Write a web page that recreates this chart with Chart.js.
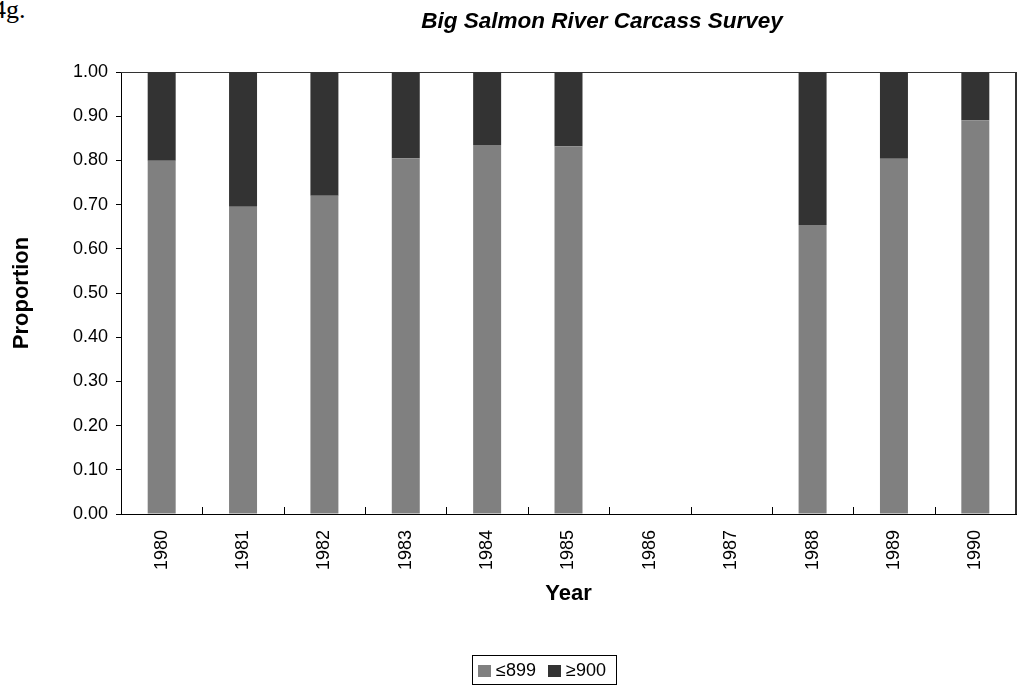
<!DOCTYPE html>
<html>
<head>
<meta charset="utf-8">
<script src="https://cdn.jsdelivr.net/npm/chart.js@4/dist/chart.umd.min.js"></script>
<style>
  html, body { margin: 0; padding: 0; background: #fff; }
  #wrap { position: relative; width: 1018px; height: 688px; overflow: hidden; }
  #fig { position: absolute; left: -7px; top: -5px; font-family: "Liberation Serif", "Times New Roman", serif; font-size: 26px; color: #000; }
  canvas { position: absolute; left: 0; top: 0; }
</style>
</head>
<body>
<div id="wrap">
  <div id="fig">4g.</div>
  <canvas id="chart" width="1018" height="688"></canvas>
</div>
<script>
// Carcass survey proportions by size class
const years = ['1980', '1981', '1982', '1983', '1984', '1985', '1986', '1987', '1988', '1989', '1990'];
const small = [0.799, 0.695, 0.720, 0.805, 0.835, 0.832, null, null, 0.654, 0.804, 0.891];
const large = [0.201, 0.305, 0.280, 0.195, 0.165, 0.168, null, null, 0.346, 0.196, 0.109];
const seriesNames = ['\u2264899', '\u2265900'];
const seriesColors = ['#808080', '#333333'];

const font = 'Liberation Sans, Arial, sans-serif';

// Title, frame lines, inner tick marks and boxed legend
const extras = {
  id: 'extras',
  afterDraw(chart) {
    const ctx = chart.ctx;
    const area = chart.chartArea;
    const x = chart.scales.x;
    ctx.save();

    ctx.fillStyle = '#000';
    ctx.font = 'italic bold 22.5px ' + font;
    ctx.textAlign = 'center';
    ctx.textBaseline = 'middle';
    ctx.fillText('Big Salmon River Carcass Survey', 602, 22);

    // top and right edges of the plot area
    ctx.strokeStyle = '#333333';
    ctx.lineWidth = 1;
    ctx.beginPath();
    ctx.moveTo(area.left, area.top + 0.5);
    ctx.lineTo(area.right, area.top + 0.5);
    ctx.stroke();
    ctx.lineWidth = 2;
    ctx.beginPath();
    ctx.moveTo(area.right, area.top);
    ctx.lineTo(area.right, area.bottom);
    ctx.stroke();

    // short ticks between categories, pointing up into the plot
    ctx.strokeStyle = '#000';
    ctx.lineWidth = 1;
    ctx.beginPath();
    for (let i = 0; i < years.length - 1; i++) {
      const px = Math.round((x.getPixelForTick(i) + x.getPixelForTick(i + 1)) / 2) + 0.5;
      ctx.moveTo(px, area.bottom);
      ctx.lineTo(px, area.bottom - 7);
    }
    ctx.stroke();

    // legend
    const lx = 472, ly = 655, lw = 144, lh = 29;
    ctx.strokeStyle = '#000';
    ctx.strokeRect(lx + 0.5, ly + 0.5, lw, lh);
    ctx.font = '18px ' + font;
    ctx.textAlign = 'left';
    let cx = lx + 6;
    seriesNames.forEach((name, i) => {
      ctx.fillStyle = seriesColors[i];
      ctx.fillRect(cx, ly + 10, 13, 12);
      ctx.fillStyle = '#000';
      ctx.fillText(name, cx + 18, ly + 16);
      cx += 70;
    });
    ctx.restore();
  }
};

new Chart(document.getElementById('chart'), {
  type: 'bar',
  data: {
    labels: years,
    datasets: [
      { label: seriesNames[0], data: small, backgroundColor: seriesColors[0] },
      { label: seriesNames[1], data: large, backgroundColor: seriesColors[1] },
    ],
  },
  options: {
    responsive: false,
    animation: false,
    layout: { padding: { left: 0, top: 72, right: 2, bottom: 80 } },
    datasets: { bar: { categoryPercentage: 1, barPercentage: 0.344 } },
    plugins: {
      legend: { display: false },
      tooltip: { enabled: false },
    },
    scales: {
      x: {
        stacked: true,
        grid: { display: false },
        border: { color: '#000', width: 1 },
        ticks: { color: '#000', font: { family: font, size: 18 }, minRotation: 90, maxRotation: 90, padding: 8 },
        title: { display: true, text: 'Year', color: '#000', font: { family: font, size: 22, weight: 'bold' }, padding: { top: 0, bottom: 1 } },
        afterFit(scale) { scale.height = 94; },
      },
      y: {
        stacked: true,
        min: 0,
        max: 1,
        grid: { drawOnChartArea: false, drawTicks: true, tickLength: 5, color: '#000' },
        border: { color: '#000', width: 1 },
        ticks: { stepSize: 0.1, color: '#000', font: { family: font, size: 18 }, padding: 8, callback: (v) => v.toFixed(2) },
        title: { display: true, text: 'Proportion', color: '#000', font: { family: font, size: 22, weight: 'bold' }, padding: { top: 9, bottom: 0 } },
        afterFit(scale) { scale.width = 121; },
      },
    },
  },
  plugins: [extras],
});
</script>
</body>
</html>
